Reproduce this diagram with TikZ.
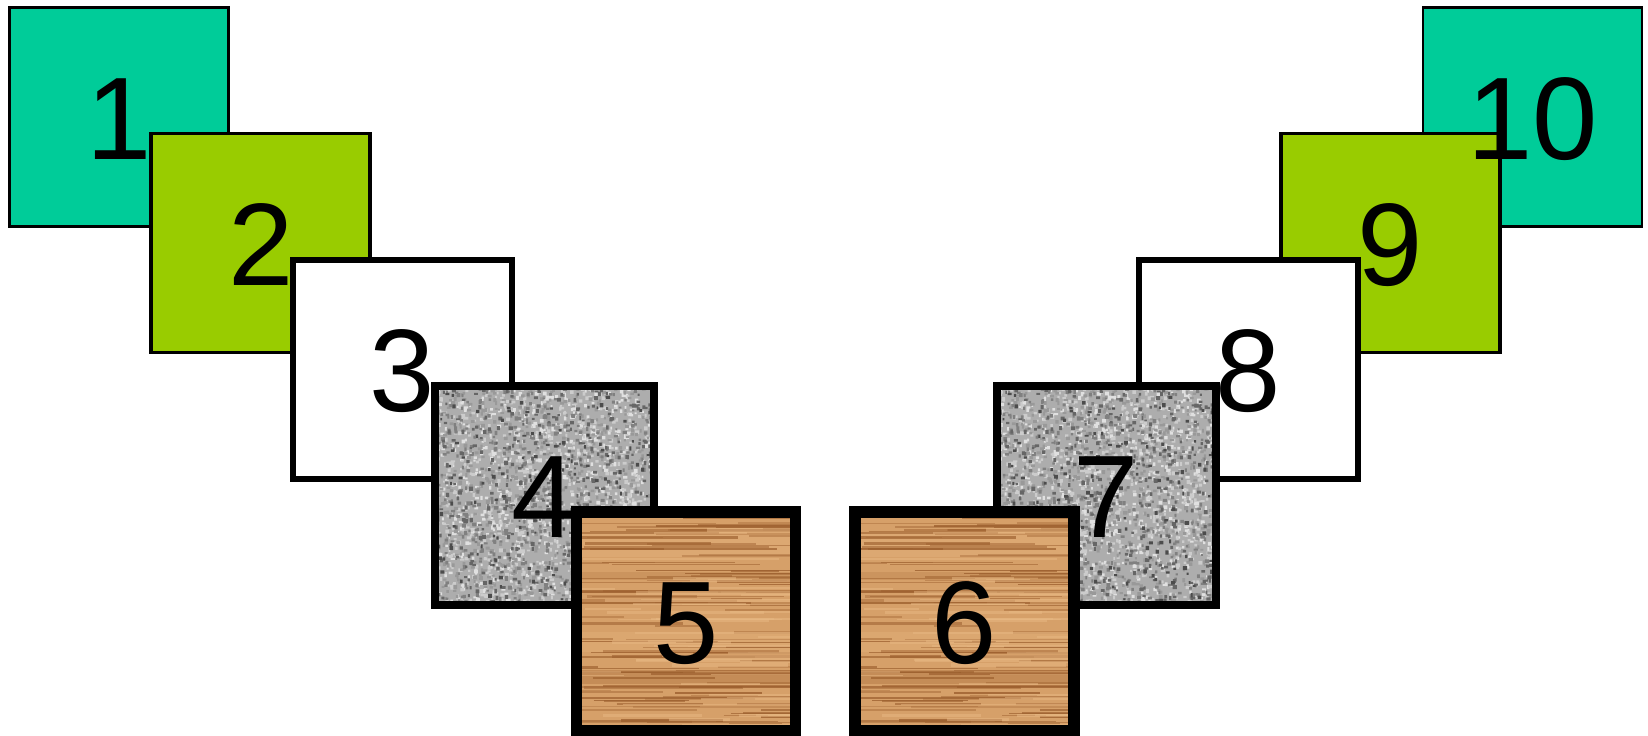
\documentclass[tikz,border=0pt]{standalone}
\usepackage{fontspec}
\setmainfont{Liberation Sans}
\definecolor{boxteal}{HTML}{00CC99}
\definecolor{boxgreen}{HTML}{99CC00}
\definecolor{granitebase}{HTML}{ADADAD}
\definecolor{woodbase}{HTML}{D6A069}
\definecolor{wooddark}{HTML}{9C5F2E}
\definecolor{woodlight}{HTML}{E8B883}
\tikzset{
  digit/.style={anchor=base, inner sep=0pt, font=\fontsize{58.7pt}{60pt}\selectfont},
  tileborder/.style={draw=black, line join=miter},
}
\newcommand\grainlayer[4]{%
  \fill[black!#3] \foreach \i in {1,...,#4}{
    ({#1-3+222*rnd},{#2-3+222*rnd}) rectangle ++({1.8+2.4*rnd},{1.8+2.4*rnd})
  };}
\newcommand\granitefill[2]{%
  \begin{scope}
    \clip (#1,#2) rectangle ++(219,219);
    \fill[granitebase] (#1,#2) rectangle ++(219,219);
    \pgfmathsetseed{1234}
    \grainlayer{#1}{#2}{12}{700}
    \grainlayer{#1}{#2}{20}{700}
    \grainlayer{#1}{#2}{40}{600}
    \grainlayer{#1}{#2}{50}{500}
    \grainlayer{#1}{#2}{60}{350}
    \grainlayer{#1}{#2}{70}{150}
  \end{scope}}
\newcommand\woodfill[2]{%
  \begin{scope}
    \clip (#1,#2) rectangle ++(219,219);
    \fill[woodbase] (#1,#2) rectangle ++(219,219);
    \fill[wooddark, opacity=0.30] (#1,#2+158) rectangle ++(219,14);
    \fill[wooddark, opacity=0.18] (#1,#2+60) rectangle ++(219,8);
    \fill[woodlight, opacity=0.35] (#1,#2+20) rectangle ++(219,25);
    \fill[woodlight, opacity=0.30] (#1,#2+120) rectangle ++(219,20);
    \pgfmathsetseed{4321}
    \foreach \i in {1,...,120}{
      \pgfmathsetmacro\wy{#2+219*rnd}
      \pgfmathsetmacro\wx{#1-40+230*rnd}
      \pgfmathsetmacro\wl{40+170*rnd}
      \pgfmathsetmacro\ww{0.4+1.0*rnd}
      \pgfmathsetmacro\wo{0.3+0.5*rnd}
      \draw[wooddark, line width=\ww pt, opacity=\wo] (\wx,\wy) -- ++(\wl,0);
    }
    \foreach \i in {1,...,50}{
      \pgfmathsetmacro\wy{#2+219*rnd}
      \pgfmathsetmacro\wx{#1-40+230*rnd}
      \pgfmathsetmacro\wl{40+170*rnd}
      \pgfmathsetmacro\ww{0.5+1.2*rnd}
      \draw[woodlight, line width=\ww pt, opacity=0.5] (\wx,\wy) -- ++(\wl,0);
    }
  \end{scope}}
\begin{document}
\begin{tikzpicture}[x=0.5pt, y=-0.5pt]
\useasboundingbox (0,0) rectangle (1648,735);
% ---- left staircase ----
\fill[boxteal] (9.5,7.5) rectangle ++(219,219);
\draw[tileborder, line width=1.25pt] (9.5,7.5) rectangle ++(219,219);
\fill[boxgreen] (151.25,133.6) rectangle ++(219,219);
\draw[tileborder, line width=1.85pt] (151.25,133.6) rectangle ++(219,219);
\fill[white] (293,259.7) rectangle ++(219,219);
\draw[tileborder, line width=3pt] (293,259.7) rectangle ++(219,219);
\granitefill{434.75}{385.8}
\draw[tileborder, line width=3.75pt] (434.75,385.8) rectangle ++(219,219);
\woodfill{576.5}{511.9}
\draw[tileborder, line width=5.75pt] (576.5,511.9) rectangle ++(219,219);
% ---- right staircase ----
\fill[boxteal] (1423,7.5) rectangle ++(219,219);
\draw[tileborder, line width=1.25pt] (1423,7.5) rectangle ++(219,219);
\fill[boxgreen] (1281,133.6) rectangle ++(219,219);
\draw[tileborder, line width=1.85pt] (1281,133.6) rectangle ++(219,219);
\fill[white] (1139,259.7) rectangle ++(219,219);
\draw[tileborder, line width=3pt] (1139,259.7) rectangle ++(219,219);
\granitefill{997}{385.8}
\draw[tileborder, line width=3.75pt] (997,385.8) rectangle ++(219,219);
\woodfill{855}{511.9}
\draw[tileborder, line width=5.75pt] (855,511.9) rectangle ++(219,219);
% ---- digits ----
\node[digit] (d1) at (119,159) {1};
\node[digit] (d2) at (260.75,285.1) {2};
\node[digit] (d3) at (402.5,411.2) {3};
\node[digit] (d4) at (544.25,537.3) {4};
\node[digit] (d5) at (686,663.4) {5};
\node[digit] (d6) at (964.5,663.4) {6};
\node[digit] (d7) at (1106.5,537.3) {7};
\node[digit] (d8) at (1248.5,411.2) {8};
\node[digit] (d9) at (1390.5,285.1) {9};
\node[digit] (d10) at (1532.5,159) {10};
\end{tikzpicture}
\end{document}
